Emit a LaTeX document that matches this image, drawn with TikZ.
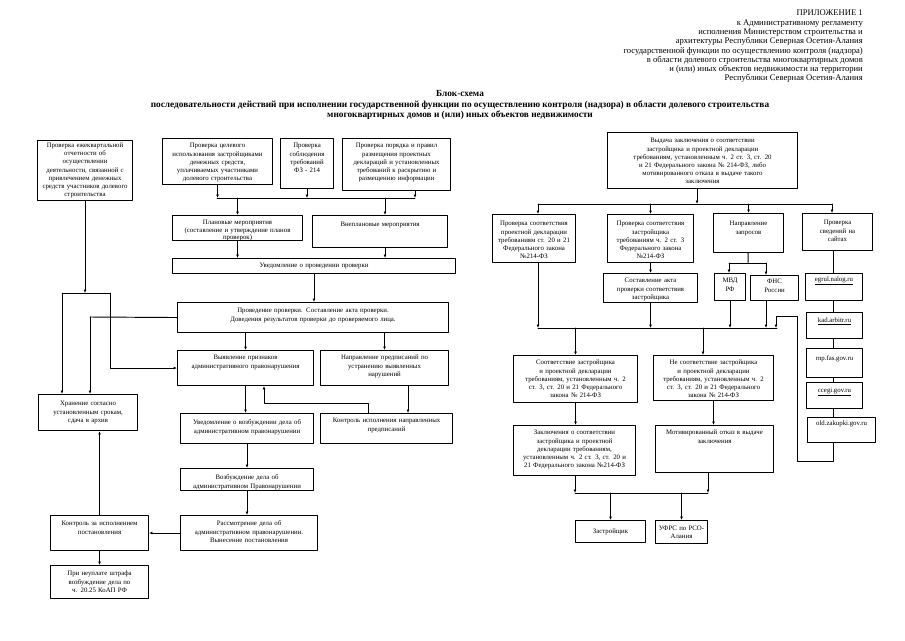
\documentclass[tikz,border=0pt]{standalone}
\usepackage{fontspec}
\setmainfont{Liberation Serif}
\usetikzlibrary{arrows.meta}

\begin{document}
\begin{tikzpicture}[line cap=round,line join=round,x=1.0pt,y=-1.0pt,
  box/.style={draw, line width=1.05pt, anchor=north west, align=center, inner xsep=1pt, inner ysep=1pt, font=\fontsize{6.8}{8.2}\selectfont},
  wire/.style={line width=0.95pt},
  >={Latex[length=3.4pt,width=2.8pt]}]

\fill [white] (0,0) rectangle (905,640);

% header and title
\node [anchor=north east, align=right, inner sep=0pt, font=\fontsize{8.6}{9.3}\selectfont] (hdr) at (863,10) {ПРИЛОЖЕНИЕ 1\\ к Административному регламенту\\ исполнения Министерством строительства и\\ архитектуры Республики Северная Осетия-Алания\\ государственной функции по осуществлению контроля (надзора)\\ в области долевого строительства многоквартирных домов\\ и (или) иных объектов недвижимости на территории\\ Республики Северная Осетия-Алания};
\node [anchor=north, align=center, inner sep=0pt, font=\bfseries\fontsize{9.3}{10.8}\selectfont] (ttl) at (460,90) {Блок-схема\\ последовательности действий при исполнении государственной функции по осуществлению контроля (надзора) в области долевого строительства\\ многоквартирных домов и (или) иных объектов недвижимости};

% left part
\node [box, text width=93pt, minimum height=60pt] (l1) at (37,140) {Проверка ежеквартальной\\ отчетности об\\ осуществлении\\ деятельности, связанной с\\ привлечением денежных\\ средств участников долевого\\ строительства};
\node [box, text width=108pt, minimum height=46pt, text height=8.3pt, text depth=35.7pt] (t1) at (162,138) {Проверка целевого\\ использования застройщиками\\ денежных средств,\\ уплачиваемых участниками\\ долевого строительства};
\node [box, text width=51pt, minimum height=50pt, text height=8.3pt, text depth=39.7pt] (t2) at (280,138) {Проверка\\ соблюдения\\ требований\\ ФЗ - 214};
\node [box, text width=106pt, minimum height=52pt, text height=8.3pt, text depth=41.7pt] (t3) at (342,138) {Проверка порядка и правил\\ размещения проектных\\ деклараций и установленных\\ требований к раскрытию и\\ размещению информации};
\node [box, text width=128pt, minimum height=25pt, text height=8.3pt, text depth=14.7pt, font=\fontsize{6.8}{7.2}\selectfont] (plan) at (172,215) {Плановые мероприятия\\ (составление и утверждение планов\\ проверок)};
\node [box, text width=133pt, minimum height=32pt, text height=10.3pt, text depth=19.7pt] (vnepl) at (312,215) {Внеплановые мероприятия};
\node [box, text width=281pt, minimum height=15pt] (uved) at (172,258) {Уведомление о проведении проверки};
\node [box, text width=269pt, minimum height=30pt, text height=9.3pt, text depth=18.7pt] (prov) at (177,302) {Проведение проверки. Составление акта проверки.\\ Доведения результатов проверки до проверяемого лица.};
\node [box, text width=134pt, minimum height=35pt, text height=8.3pt, text depth=24.7pt] (vyav) at (177,350) {Выявление признаков\\ административного правонарушения};
\node [box, text width=126pt, minimum height=35pt, text height=8.3pt, text depth=24.7pt] (napr) at (320,350) {Направление предписаний по\\ устранению выявленных\\ нарушений};
\node [box, text width=131pt, minimum height=30pt, text height=10.3pt, text depth=17.7pt] (uvvozb) at (180,413) {Уведомление о возбуждении дела об\\ административном правонарушении};
\node [box, text width=130pt, minimum height=30pt, text height=8.3pt, text depth=19.7pt] (kontrisp) at (320,413) {Контроль исполнения направленных\\ предписаний};
\node [box, text width=131pt, minimum height=22pt, text height=10.3pt, text depth=9.7pt] (vozb) at (180,468) {Возбуждение дела об\\ административном Правонарушении};
\node [box, text width=135pt, minimum height=35pt, text height=9.3pt, text depth=23.7pt] (rassm) at (180,515) {Рассмотрение дела об\\ административном правонарушении.\\ Вынесение постановления};
\node [box, text width=96pt, minimum height=35pt, text height=9.3pt, text depth=23.7pt] (kontrpost) at (50,515) {Контроль за исполнением\\ постановления};
\node [box, text width=97pt, minimum height=36pt, text height=10.3pt, text depth=23.7pt] (hran) at (38,394) {Хранение согласно\\ установленным срокам,\\ сдача в архив};
\node [box, text width=96pt, minimum height=33pt, text height=9.3pt, text depth=21.7pt] (neupl) at (50,565) {При неуплате штрафа\\ возбуждение дела по\\ ч. 20.25 КоАП РФ};

% right part
\node [box, text width=188pt, minimum height=56pt, text height=9.3pt, text depth=44.7pt] (vyd) at (607,132) {Выдача заключения о соответствии\\ застройщика и проектной декларации\\ требованиям, установленным ч. 2 ст. 3, ст. 20\\ и 21 Федерального закона № 214-ФЗ, либо\\ мотивированного отказа в выдаче такого\\ заключения};
\node [box, text width=81pt, minimum height=48pt, text height=10.3pt, text depth=35.7pt] (pdekl) at (492,214) {Проверка соответствия\\ проектной декларации\\ требованиям ст. 20 и 21\\ Федерального закона\\ №214-ФЗ};
\node [box, text width=84pt, minimum height=48pt, text height=10.3pt, text depth=35.7pt] (pzastr) at (607,214) {Проверка соответствия\\ застройщика\\ требованиям ч. 2 ст. 3\\ Федерального закона\\ №214-ФЗ};
\node [box, text width=68pt, minimum height=39pt, text height=11.3pt, text depth=25.7pt] (zapr) at (713,213) {Направление\\ запросов};
\node [box, text width=68pt, minimum height=37pt, text height=10.3pt, text depth=24.7pt] (sayty) at (802,213) {Проверка\\ сведений на\\ сайтах};
\node [box, text width=92pt, minimum height=29pt, text height=8.3pt, text depth=18.7pt] (akt) at (603,273) {Составление акта\\ проверки соответствия\\ застройщика};
\node [box, text width=29pt, minimum height=27pt, text height=8.3pt, text depth=16.7pt] (mvd) at (714,273) {МВД\\ РФ};
\node [box, text width=46pt, minimum height=25pt, text height=7.3pt, text depth=15.7pt] (fns) at (750,275) {ФНС\\ России};
\node [box, text width=55pt, minimum height=27pt, text height=7.3pt, text depth=17.7pt] (egrul) at (805,273) {\underline{egrul.nalog.ru}};
\node [box, text width=54pt, minimum height=26pt, text height=9.3pt, text depth=14.7pt] (kad) at (806,312) {\underline{kad.arbitr.ru}};
\node [box, text width=54pt, minimum height=29pt, text height=11.3pt, text depth=15.7pt] (rnp) at (806,348) {rnp.fas.gov.ru};
\node [box, text width=54pt, minimum height=26pt, text height=9.3pt, text depth=14.7pt] (ccegi) at (806,382) {\underline{ccegi.gov.ru}};
\node [box, text width=66pt, minimum height=25pt, text height=7.3pt, text depth=15.7pt] (zakup) at (807,417) {old.zakupki.gov.ru};
\node [box, text width=122pt, minimum height=47pt, text height=8.3pt, text depth=36.7pt] (sootv) at (513,355) {Соответствие застройщика\\ и проектной декларации\\ требованиям, установленным ч. 2\\ ст. 3, ст. 20 и 21 Федерального\\ закона № 214-ФЗ};
\node [box, text width=118pt, minimum height=45pt, text height=8.3pt, text depth=34.7pt] (nesootv) at (653,355) {Не соответствие застройщика\\ и проектной декларации\\ требованиям, установленным ч. 2\\ ст. 3, ст. 20 и 21 Федерального\\ закона № 214-ФЗ};
\node [box, text width=120pt, minimum height=50pt, text height=8.3pt, text depth=39.7pt] (zakl) at (513,425) {Заключения о соответствии\\ застройщика и проектной\\ декларации требованиям,\\ установленным ч. 2 ст. 3, ст. 20 и\\ 21 Федерального закона №214-ФЗ};
\node [box, text width=116pt, minimum height=47pt, text height=8.3pt, text depth=36.7pt] (otkaz) at (655,425) {Мотивированный отказ в выдаче\\ заключения};
\node [box, text width=68pt, minimum height=22pt] (zastr) at (575,520) {Застройщик};
\node [box, text width=50pt, minimum height=23pt] (ufrs) at (655,520) {УФРС по РСО-\\ Алания};

% connectors, top and middle
\coordinate (ba) at (217,198);
\coordinate (bb) at (415,198);
\coordinate (bv) at (385,198);
\draw [wire,->] (t1) -- (t1 |- ba);
\draw [wire,->] (t2) -- (t2 |- ba);
\draw [wire,->] (t3.south -| bb) -- (bb);
\draw [wire] (ba) -- (bb);
\draw [wire,->] (plan |- ba) -- (plan);
\draw [wire,->] (bv) -- (bv |- vnepl.north);
\draw [wire,->] (plan) -- (plan |- uved.north);
\draw [wire,->] (bv |- vnepl.south) -- (bv |- uved.north);
\draw [wire,->] (uved) -- (uved |- prov.north);
\draw [wire,->] (vyav |- prov.south) -- (vyav);
\draw [wire,->] (napr |- prov.south) -- (napr);
\draw [wire,->] (vyav) -- (vyav |- uvvozb.north);
\coordinate (kk) at (408,0);
\draw [wire,->] (napr.south -| kk) -- (kontrisp.north -| kk);
\coordinate (fa) at (368,403);
\coordinate (fb) at (264,403);
\draw [wire,->] (kontrisp.north -| fa) -- (fa) -- (fb) -- (fb |- vyav.south);
\draw [wire,->] (uvvozb) -- (uvvozb |- vozb.north);
\draw [wire,->] (vozb) -- (vozb |- rassm.north);
\draw [wire,->] (rassm) -- (kontrpost);
\draw [wire,->] (kontrpost) -- (kontrpost |- hran.south);
\draw [wire,->] (kontrpost) -- (neupl);

% connectors, left column
\coordinate (splitl) at (62,293);
\coordinate (splitr) at (110,293);
\coordinate (splitm) at (90,317);
\draw [wire,->] (l1.south) -- (l1.south |- splitl);
\draw [wire] (splitl) -- (splitr);
\draw [wire,->] (splitl) -- (splitl |- hran.north);
\draw [wire,->] (splitr) |- (vyav.west);
\draw [wire] (prov.west) -- (splitm);
\draw [wire,->] (splitm) -- (splitm |- hran.north);

% connectors, right part
\coordinate (ca) at (538,204);
\coordinate (cb) at (832,204);
\coordinate (cv) at (697,204);
\draw [wire,->] (vyd.south -| cv) -- (cv);
\draw [wire] (ca) -- (cb);
\draw [wire,->] (ca) -- (ca |- pdekl.north);
\draw [wire,->] (pzastr |- ca) -- (pzastr);
\draw [wire,->] (zapr |- ca) -- (zapr);
\draw [wire,->] (cb) -- (cb |- sayty.north);
\draw [wire,->] (pzastr) -- (akt);

\coordinate (qa) at (748,263);
\coordinate (qb) at (729,263);
\coordinate (qc) at (766,263);
\draw [wire] (zapr) -- (qa);
\draw [wire] (qb) -- (qc);
\draw [wire,->] (qb) -- (qb |- mvd.north);
\draw [wire,->] (qc) -- (qc |- fns.north);

\coordinate (sx) at (833,0);
\draw [wire] (sayty.south -| sx) -- (egrul.north -| sx);
\draw [wire] (egrul.south -| sx) -- (kad.north -| sx);
\draw [wire] (kad.south -| sx) -- (rnp.north -| sx);
\draw [wire] (rnp.south -| sx) -- (ccegi.north -| sx);
\draw [wire] (ccegi.south -| sx) -- (zakup.north -| sx);

\coordinate (la) at (833,461);
\coordinate (lb) at (797,461);
\coordinate (lc) at (797,316);
\coordinate (ld) at (776,316);
\coordinate (le) at (776,328);
\draw [wire,->] (zakup.south -| sx) -- (la) -- (lb) -- (lc) -- (ld) -- (le);

\coordinate (da) at (538,328);
\coordinate (db) at (777,328);
\coordinate (dn) at (703,328);
\draw [wire] (da) -- (db);
\draw [wire,->] (pdekl.south -| da) -- (da);
\draw [wire,->] (akt) -- (akt |- da);
\draw [wire,->] (mvd) -- (mvd |- da);
\draw [wire,->] (fns.south -| qc) -- (qc |- da);
\draw [wire,->] (sootv |- da) -- (sootv);
\draw [wire,->] (dn) -- (dn |- nesootv.north);
\draw [wire,->] (sootv) -- (sootv |- zakl.north);
\draw [wire,->] (nesootv) -- (nesootv |- otkaz.north);

\coordinate (ea) at (575,493);
\coordinate (eb) at (708,493);
\draw [wire,->] (zakl.south -| ea) -- (ea);
\draw [wire,->] (otkaz.south -| eb) -- (eb);
\draw [wire] (ea) -- (eb);
\draw [wire,->] (zastr |- ea) -- (zastr);
\draw [wire,->] (ufrs |- ea) -- (ufrs);
\end{tikzpicture}
\end{document}
